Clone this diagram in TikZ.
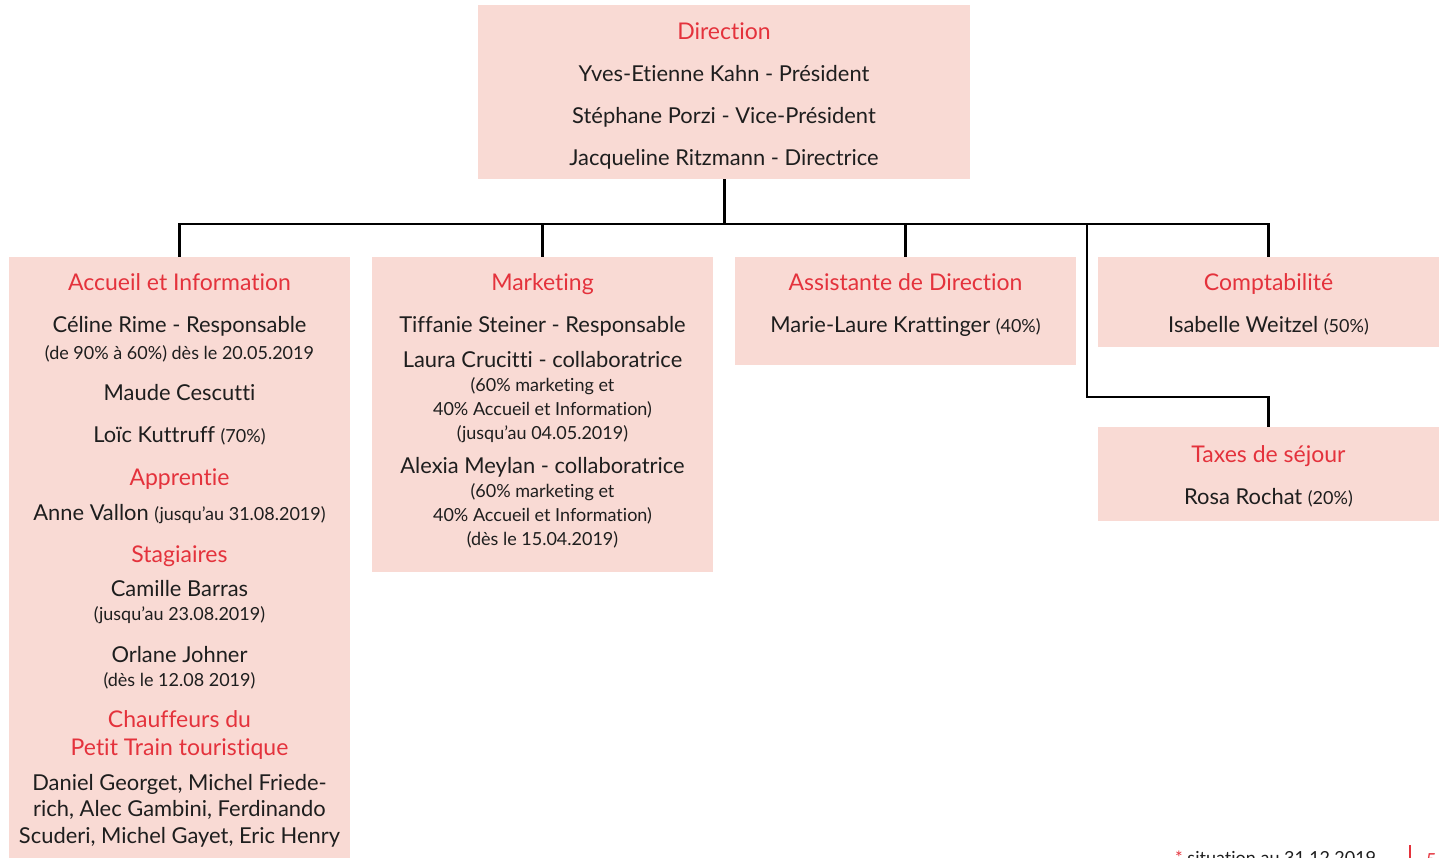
\documentclass[tikz,border=0pt]{standalone}
\usepackage{fontspec}
\setmainfont{Lato}[Ligatures=NoCommon]
\usetikzlibrary{positioning}
\definecolor{boxpink}{RGB}{249,218,212}
\definecolor{titlered}{RGB}{228,50,60}
\definecolor{ink}{RGB}{30,30,30}
\newcommand{\sm}[1]{{\fontsize{18}{21}\selectfont #1}}

\begin{document}
\begin{tikzpicture}[x=1pt, y=-1pt,
  unit/.style={fill=boxpink, anchor=north west, inner sep=0pt, minimum width=341pt},
  line/.style={inner sep=0pt, text height=0.72em, text depth=0.2em, yshift=-5pt},
  head/.style={line, text=titlered, font=\fontsize{23}{26}\selectfont},
  txt/.style={line, text=ink, font=\fontsize{21.9}{25}\selectfont},
  small/.style={line, text=ink, font=\fontsize{18}{21}\selectfont},
  link/.style={line width=2.7pt, black}]
\useasboundingbox (0,0) rectangle (1442,858);
\clip (0,0) rectangle (1442,858);

% boxes
\node[unit, minimum width=492pt, minimum height=174pt] (dir) at (478,5) {};
\node[unit, minimum height=610pt] (accueil) at (9,257) {};
\node[unit, minimum height=315pt] (mkt) at (372,257) {};
\node[unit, minimum height=108pt] (assist) at (735,257) {};
\node[unit, minimum height=90pt] (compta) at (1098,257) {};
\node[unit, minimum height=94pt] (taxes) at (1098,427) {};

% connectors
\coordinate (bus) at (dir.south |- 0,224);
\coordinate (branch) at (1087,224);
\coordinate (elbow) at (1087,397);
\draw[link] (dir.south) -- (bus);
\draw[link] (accueil.north) |- (bus) -| (compta.north);
\draw[link] (mkt.north) -- (mkt.north |- bus);
\draw[link] (assist.north) -- (assist.north |- bus);
\draw[link] (branch) -- (elbow) -| (taxes.north);

% Direction
\node[head] (dirT) at (724,32) {Direction};
\node[txt] (dir1) at (724,74) {Yves-Etienne Kahn - Président};
\node[txt] (dir2) at (724,116) {Stéphane Porzi - Vice-Président};
\node[txt] (dir3) at (724,158) {Jacqueline Ritzmann - Directrice};

% Accueil et Information
\node[head] (accT) at (179.5,283) {Accueil et Information};
\node[txt] (acc1) at (179.5,325) {Céline Rime - Responsable};
\node[small] (acc2) at (179.5,352) {(de 90\% à 60\%) dès le 20.05.2019};
\node[txt] (acc3) at (179.5,393) {Maude Cescutti};
\node[txt] (acc4) at (179.5,435) {Loïc Kuttruff \sm{(70\%)}};
\node[head] (appT) at (179.5,478) {Apprentie};
\node[txt] (app1) at (179.5,513) {Anne Vallon \sm{(jusqu’au 31.08.2019)}};
\node[head] (stgT) at (179.5,555) {Stagiaires};
\node[txt] (stg1) at (179.5,589) {Camille Barras};
\node[small] (stg2) at (179.5,613) {(jusqu’au 23.08.2019)};
\node[txt] (stg3) at (179.5,655) {Orlane Johner};
\node[small] (stg4) at (179.5,679) {(dès le 12.08 2019)};
\node[head] (chfT) at (179.5,720) {Chauffeurs du};
\node[head] (chfT2) at (179.5,748) {Petit Train touristique};
\node[txt] (chf1) at (179.5,783) {Daniel Georget, Michel Friede-};
\node[txt] (chf2) at (179.5,809) {rich, Alec Gambini, Ferdinando};
\node[txt] (chf3) at (179.5,836) {Scuderi, Michel Gayet, Eric Henry};

% Marketing
\node[head] (mktT) at (542.5,283) {Marketing};
\node[txt] (mkt1) at (542.5,325) {Tiffanie Steiner - Responsable};
\node[txt] (mkt2) at (542.5,360) {Laura Crucitti - collaboratrice};
\node[small] (mkt3) at (542.5,384) {(60\% marketing et};
\node[small] (mkt4) at (542.5,408) {40\% Accueil et Information)};
\node[small] (mkt5) at (542.5,432) {(jusqu’au 04.05.2019)};
\node[txt] (mkt6) at (542.5,466) {Alexia Meylan - collaboratrice};
\node[small] (mkt7) at (542.5,490) {(60\% marketing et};
\node[small] (mkt8) at (542.5,514) {40\% Accueil et Information)};
\node[small] (mkt9) at (542.5,538) {(dès le 15.04.2019)};

% Assistante, Comptabilite, Taxes
\node[head] (asT) at (905.5,283) {Assistante de Direction};
\node[txt] (as1) at (905.5,325) {Marie-Laure Krattinger \sm{(40\%)}};
\node[head] (coT) at (1268.5,283) {Comptabilité};
\node[txt] (co1) at (1268.5,325) {Isabelle Weitzel \sm{(50\%)}};
\node[head] (txT) at (1268.5,455) {Taxes de séjour};
\node[txt] (tx1) at (1268.5,497) {Rosa Rochat \sm{(20\%)}};

% footer
\node[text=ink, font=\fontsize{18}{21}\selectfont, inner sep=0pt, anchor=base west] (note) at (1175,864) {\textcolor{titlered}{*} situation au 31.12.2019};
\draw[titlered, line width=2pt] (1410,845) -- (1410,870);
\node[text=titlered, font=\fontsize{18}{21}\selectfont, inner sep=0pt, anchor=base west] (page) at (1426,866) {5};
\end{tikzpicture}
\end{document}
